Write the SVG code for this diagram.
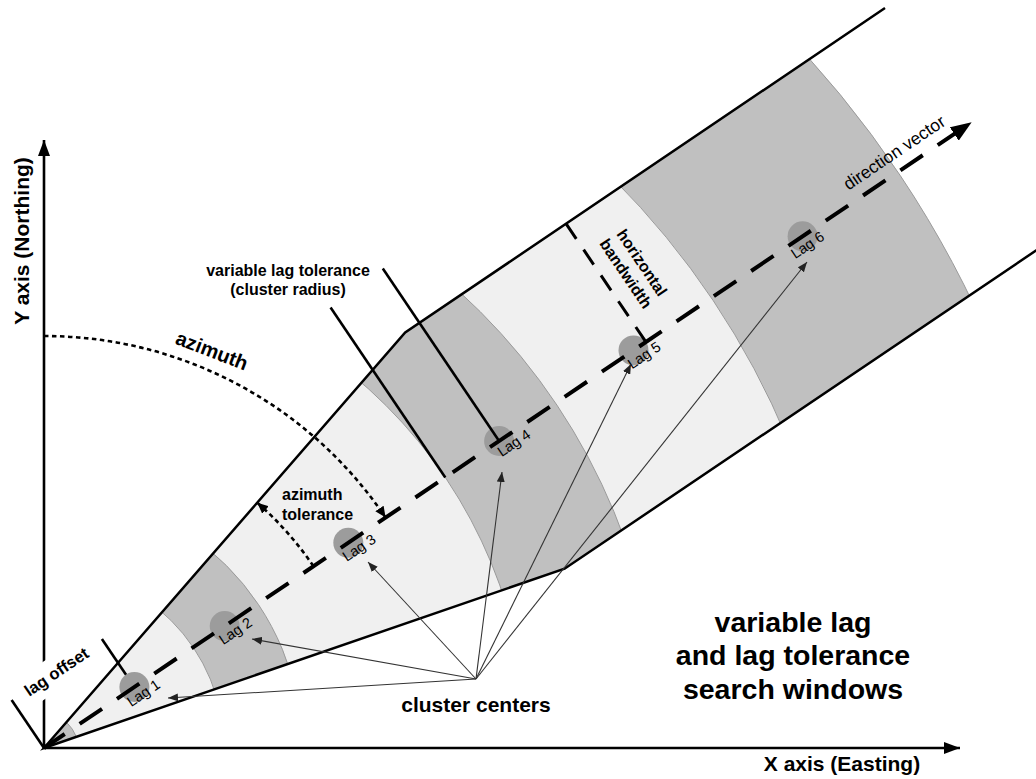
<svg xmlns="http://www.w3.org/2000/svg" width="1036" height="779" viewBox="0 0 1036 779">
<style>
.t{font-family:"Liberation Sans",Arial,sans-serif;fill:#000}
.b{font-weight:bold}
.bd{stroke:#9a9a9a;stroke-width:1}
.dk{fill:#c0c0c0}
.lt{fill:#f0f0f0}
.edge{fill:none;stroke:#000;stroke-width:2.5;stroke-linejoin:miter}
.axis{fill:none;stroke:#000;stroke-width:2.6}
.dot{fill:none;stroke:#000;stroke-width:2.6;stroke-dasharray:4.5 3.5}
.lead{fill:none;stroke:#000;stroke-width:2.6}
.ca{fill:none;stroke:#333;stroke-width:1.1}
.lagc{fill:#9c9c9c}
.lagt{font-size:14.5px}
</style>
<defs>
<clipPath id="win"><polygon points="44,748 405.2,332.5 1068.4,-114.7 1227.8,121.5 564.6,568.7"/></clipPath>
<marker id="axArrow" markerUnits="userSpaceOnUse" markerWidth="17" markerHeight="12" refX="16" refY="6" orient="auto"><path d="M0,0 L16,6 L0,12 z" fill="#000"/></marker>
<marker id="dirArrow" markerUnits="userSpaceOnUse" markerWidth="22" markerHeight="16" refX="2" refY="8" orient="auto"><path d="M0,0 L21,8 L0,16 z" fill="#000"/></marker>
<marker id="dotArrow" markerUnits="userSpaceOnUse" markerWidth="12" markerHeight="10" refX="11" refY="5" orient="auto"><path d="M0,0 L11,5 L0,10 z" fill="#000"/></marker>
<marker id="thinArrow" markerUnits="userSpaceOnUse" markerWidth="11" markerHeight="8" refX="10" refY="4" orient="auto"><path d="M0,0 L10,4 L0,8 z" fill="#222"/></marker>
</defs>
<rect width="1036" height="779" fill="#fff"/>

<g id="search-window">
<g clip-path="url(#win)">
<circle cx="44" cy="748" r="1030" class="dk bd"/>
<circle cx="44" cy="748" r="805" class="lt bd"/>
<circle cx="44" cy="748" r="617" class="dk bd"/>
<circle cx="44" cy="748" r="484" class="lt bd"/>
<circle cx="44" cy="748" r="258" class="dk bd"/>
<circle cx="44" cy="748" r="180" class="lt bd"/>
<circle cx="44" cy="748" r="34" class="dk bd"/>
</g>
<polyline class="edge" points="885,8 405.2,332.5 44,748 564.6,568.7 1060,234.3"/>
</g>

<g id="axes">
<line class="axis" x1="44" y1="748" x2="44" y2="140" marker-end="url(#axArrow)"/>
<line class="axis" x1="44" y1="748" x2="960" y2="748" marker-end="url(#axArrow)"/>
<text class="t b" font-size="21" transform="translate(29,241) rotate(-90)" text-anchor="middle">Y axis (Northing)</text>
<text class="t b" font-size="21" x="842" y="771" text-anchor="middle">X axis (Easting)</text>
</g>

<g id="lag-offset">
<rect x="-42" y="-19" width="84" height="32" fill="#fff" transform="translate(57.5,675) rotate(-34)"/>
<line class="lead" x1="44" y1="748" x2="11.6" y2="699.9"/>
<line class="lead" x1="135.5" y1="688.7" x2="101.9" y2="639"/>
<text class="t b" font-size="16.5" text-anchor="middle" transform="translate(59.7,676.6) rotate(-34)">lag offset</text>
</g>

<g id="lag1"><circle class="lagc" cx="134.4" cy="687" r="15"/><text class="t lagt" transform="translate(134.4,687) rotate(-34)" x="-14" y="15">Lag 1</text></g>
<g id="lag2"><circle class="lagc" cx="224.7" cy="626.1" r="15"/><text class="t lagt" transform="translate(224.7,626.1) rotate(-34)" x="-12" y="15">Lag 2</text></g>
<g id="lag3"><circle class="lagc" cx="348.3" cy="542.8" r="15"/><text class="t lagt" transform="translate(348.3,542.8) rotate(-34)" x="-12" y="15">Lag 3</text></g>
<g id="lag4"><circle class="lagc" cx="499.1" cy="441" r="15"/><text class="t lagt" transform="translate(499.1,441) rotate(-34)" x="-7" y="15">Lag 4</text></g>
<g id="lag5"><circle class="lagc" cx="633.5" cy="350.4" r="15"/><text class="t lagt" transform="translate(633.5,350.4) rotate(-34)" x="-12" y="15">Lag 5</text></g>
<g id="lag6"><circle class="lagc" cx="802.6" cy="236.3" r="15"/><text class="t lagt" transform="translate(802.6,236.3) rotate(-34)" x="-19" y="15">Lag 6</text></g>

<g id="connectors">
<path id="direction-vector" d="M44,748 L955.9,132.9" fill="none" stroke="#000" stroke-width="4" stroke-dasharray="27 18" stroke-dashoffset="2" marker-end="url(#dirArrow)"/>
<path class="dot" d="M44,336 A412,412 0 0 1 385.6,517.6" marker-end="url(#dotArrow)"/>
<path class="dot" d="M313.4,566.3 A325,325 0 0 0 257.2,502.7" marker-end="url(#dotArrow)"/>
<line class="lead" x1="382.8" y1="268.6" x2="499.1" y2="441"/>
<line class="lead" x1="330.6" y1="307.4" x2="445.3" y2="477.4"/>
<line fill="none" stroke="#000" stroke-width="3" stroke-dasharray="18 13.1" x1="566.2" y1="223.9" x2="645.9" y2="342"/>
<line class="ca" x1="476" y1="679" x2="168" y2="698" marker-end="url(#thinArrow)"/>
<line class="ca" x1="476" y1="679" x2="252" y2="639" marker-end="url(#thinArrow)"/>
<line class="ca" x1="476" y1="679" x2="368" y2="562" marker-end="url(#thinArrow)"/>
<line class="ca" x1="476" y1="679" x2="502" y2="472" marker-end="url(#thinArrow)"/>
<line class="ca" x1="476" y1="679" x2="631" y2="364" marker-end="url(#thinArrow)"/>
<line class="ca" x1="476" y1="679" x2="807" y2="262" marker-end="url(#thinArrow)"/>
</g>

<g id="labels">
<text class="t b" font-size="20" text-anchor="middle" transform="translate(209.5,357) rotate(21)">azimuth</text>
<text class="t b" font-size="16" x="282" y="500">azimuth</text>
<text class="t b" font-size="16" x="282" y="519.5">tolerance</text>
<text class="t b" font-size="16" text-anchor="middle" x="288" y="276">variable lag tolerance</text>
<text class="t b" font-size="16" text-anchor="middle" x="288" y="295">(cluster radius)</text>
<g transform="translate(633.7,268.3) rotate(56)">
<text class="t b" font-size="16" text-anchor="middle" x="0" y="-4.5">horizontal</text>
<text class="t b" font-size="16" text-anchor="middle" x="0" y="15">bandwidth</text>
</g>
<text class="t" font-size="17.5" transform="translate(846.7,188.3) rotate(-34)" x="0" y="3">direction vector</text>
<text class="t b" font-size="21" text-anchor="middle" x="476" y="712">cluster centers</text>
<g class="t b" font-size="28.5" text-anchor="middle">
<text x="793" y="632">variable lag</text>
<text x="793" y="665">and lag tolerance</text>
<text x="793" y="699">search windows</text>
</g>
</g>
</svg>
